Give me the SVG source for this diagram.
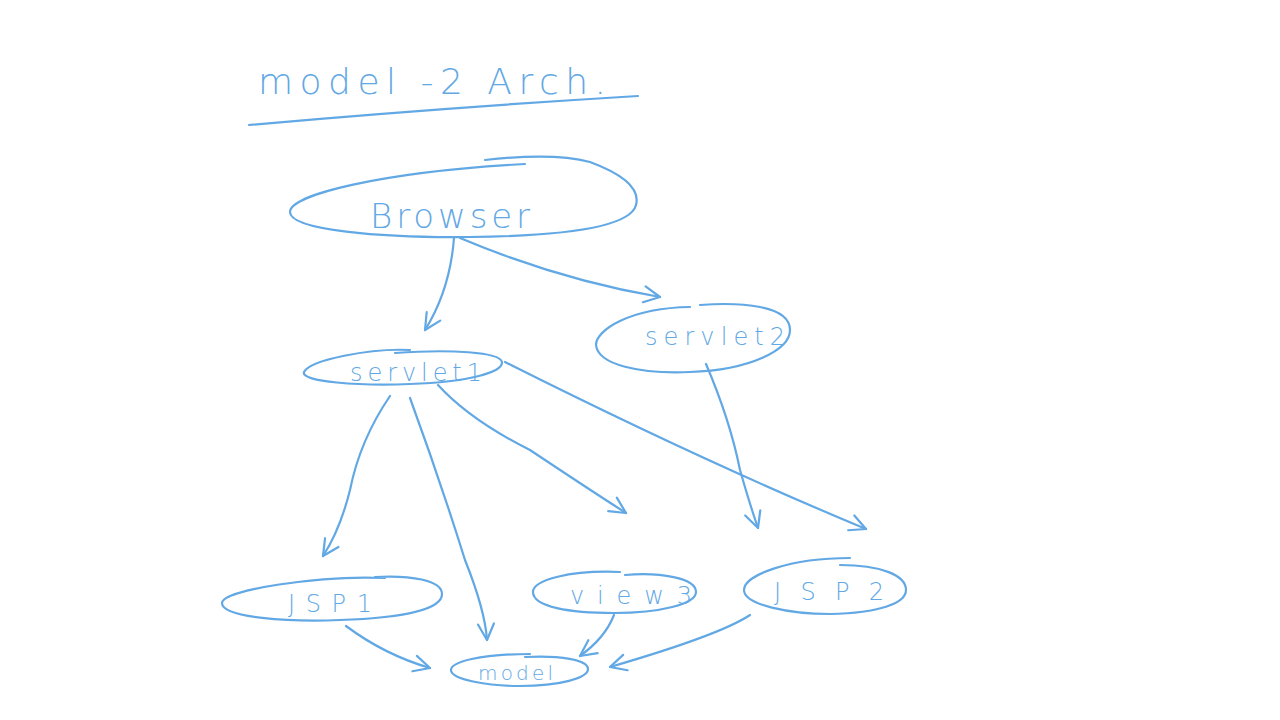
<svg xmlns="http://www.w3.org/2000/svg" width="1280" height="720" viewBox="0 0 1280 720">
<style>
.s{fill:none;stroke:#62a8e4;stroke-width:2.2;stroke-linecap:round;stroke-linejoin:round}
.t{fill:#62a8e4;font-family:"DejaVu Sans","Liberation Sans",sans-serif;font-weight:300}
</style>
<defs>
<marker id="a" viewBox="0 0 20 20" refX="18" refY="10" markerWidth="20" markerHeight="20" markerUnits="userSpaceOnUse" orient="auto">
<path d="M2,2 L18,10 L2,18" fill="none" stroke="#62a8e4" stroke-width="2.2" stroke-linecap="round" stroke-linejoin="round"/>
</marker>
</defs>
<rect width="1280" height="720" fill="#ffffff"/>
<g id="title">
<text class="t" x="258" y="94" font-size="36" textLength="348" lengthAdjust="spacing">model -2  Arch.</text>
<path class="s" d="M249,125 Q440,108 638,96"/>
</g>
<g id="browser">
<path class="s" d="M485,160 C520,156 560,154 590,162 C625,175 640,190 636,205 C630,228 560,236 470,237 C380,238 290,230 290,212 C290,195 380,172 525,164"/>
<text class="t" x="370" y="228" font-size="34" textLength="160" lengthAdjust="spacing">Browser</text>
</g>
<g id="servlet1">
<path class="s" d="M410,350 C370,348 310,360 304,372 C300,382 360,386 410,384 C470,382 503,372 502,362 C500,352 450,349 395,353"/>
<text class="t" x="350" y="381" font-size="24" textLength="132" lengthAdjust="spacing">servlet1</text>
</g>
<g id="servlet2">
<path class="s" d="M690,307 C630,308 596,330 596,345 C598,365 640,374 690,372 C750,370 790,350 790,330 C790,305 740,302 700,305"/>
<text class="t" x="645" y="345" font-size="24" textLength="140" lengthAdjust="spacing">servlet2</text>
</g>
<g id="jsp1">
<path class="s" d="M385,578 C320,575 222,590 222,603 C222,618 290,622 340,620 C400,618 442,610 442,594 C442,580 410,575 375,577"/>
<text class="t" x="288" y="612" font-size="24" textLength="84" lengthAdjust="spacing">JSP1</text>
</g>
<g id="view3">
<path class="s" d="M620,572 C570,570 533,580 533,592 C533,607 570,613 614,613 C660,613 696,604 696,592 C696,578 660,572 625,575"/>
<text class="t" x="570" y="604" font-size="24" textLength="122" lengthAdjust="spacing">view3</text>
</g>
<g id="jsp2">
<path class="s" d="M850,558 C790,558 744,575 744,590 C744,605 790,614 830,614 C880,613 906,603 906,590 C906,575 880,565 840,565"/>
<text class="t" x="774" y="600" font-size="24" textLength="110" lengthAdjust="spacing">JSP2</text>
</g>
<g id="model">
<path class="s" d="M530,654 C480,654 451,662 451,670 C451,680 490,686 520,686 C560,686 588,678 588,669 C588,660 560,655 525,657"/>
<text class="t" x="478" y="680" font-size="20" textLength="75" lengthAdjust="spacing">model</text>
</g>
<g id="connectors">
<path class="s" marker-end="url(#a)" d="M454,238 Q450,290 425,330"/>
<path class="s" marker-end="url(#a)" d="M460,238 Q560,280 660,297"/>
<path class="s" marker-end="url(#a)" d="M390,396 Q360,440 350,490 Q340,530 323,556"/>
<path class="s" marker-end="url(#a)" d="M410,398 Q440,480 465,560 Q485,610 487,640"/>
<path class="s" marker-end="url(#a)" d="M438,385 Q470,420 530,450 Q590,490 626,513"/>
<path class="s" marker-end="url(#a)" d="M505,362 Q700,460 866,529"/>
<path class="s" marker-end="url(#a)" d="M706,364 Q730,420 740,470 Q750,505 758,528"/>
<path class="s" marker-end="url(#a)" d="M346,626 Q385,655 430,668"/>
<path class="s" marker-end="url(#a)" d="M614,615 Q605,638 580,656"/>
<path class="s" marker-end="url(#a)" d="M750,615 Q720,635 610,667"/>
</g>
</svg>
